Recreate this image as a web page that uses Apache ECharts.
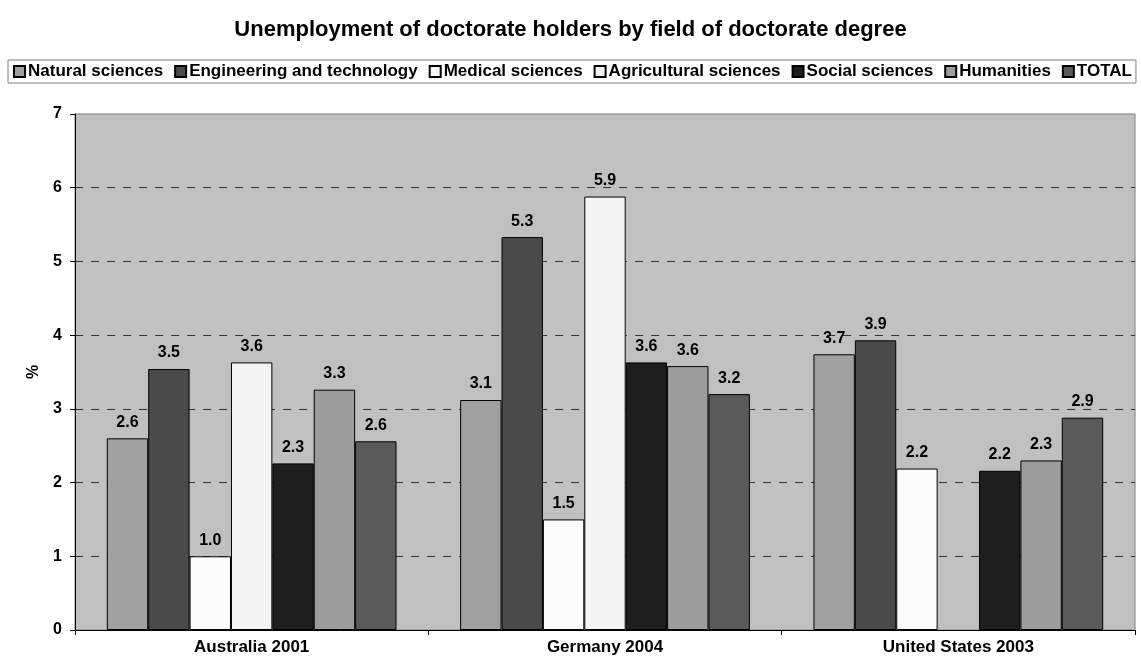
<!DOCTYPE html>
<html><head><meta charset="utf-8">
<script src="https://cdn.jsdelivr.net/npm/echarts@6/dist/echarts.min.js"></script>
<style>html,body{margin:0;padding:0;background:#fff}#c{width:1141px;height:664px}</style>
</head><body><div id="c"></div>
<script>
const categories = ['Australia 2001', 'Germany 2004', 'United States 2003'];
const seriesNames = ['Natural sciences', 'Engineering and technology', 'Medical sciences', 'Agricultural sciences', 'Social sciences', 'Humanities', 'TOTAL'];
const naturalSciences = [2.6, 3.12, 3.74];
const engineering = [3.54, 5.33, 3.93];
const medical = [1.0, 1.5, 2.19];
const agricultural = [3.63, 5.88, null];
const socialSciences = [2.26, 3.63, 2.16];
const humanities = [3.26, 3.58, 2.3];
const total = [2.56, 3.2, 2.88];
const colors = ['#a0a0a0', '#4a4a4a', '#fcfcfc', '#f4f4f4', '#1e1e1e', '#9c9c9c', '#5a5a5a'];
const yTicks = [0, 1, 2, 3, 4, 5, 6, 7];

const allData = [naturalSciences, engineering, medical, agricultural, socialSciences, humanities, total];
const font = 'Liberation Sans, Arial, sans-serif';
const chart = echarts.init(document.getElementById('c'));
chart.setOption({
  animation: false,
  title: {
    text: 'Unemployment of doctorate holders by field of doctorate degree',
    left: 'center', top: 14,
    textStyle: { fontFamily: font, fontWeight: 'bold', fontSize: 22, color: '#000' }
  },
  legend: {
    data: seriesNames,
    left: 8, top: 60,
    width: 1135,
    padding: [3, 4, 3, 5],
    itemWidth: 11, itemHeight: 11, itemGap: 11,
    borderColor: '#808080', borderWidth: 1,
    backgroundColor: '#fff',
    textStyle: { fontFamily: font, fontWeight: 'bold', fontSize: 17, color: '#000', padding: [0, 0, 0, -2] },
    icon: 'rect'
  },
  grid: {
    left: 75, right: 6, top: 114, bottom: 34,
    show: true, backgroundColor: '#c0c0c0', borderColor: '#808080', borderWidth: 1
  },
  xAxis: {
    type: 'category', data: categories,
    axisLine: { lineStyle: { color: '#000', width: 1 } },
    axisTick: { show: true, length: 5, lineStyle: { color: '#000' } },
    axisLabel: { fontFamily: font, fontWeight: 'bold', fontSize: 17, color: '#000', margin: 9 }
  },
  yAxis: {
    type: 'value', min: 0, max: 7, interval: 1,
    name: '%', nameLocation: 'middle', nameGap: 33, nameRotate: 90,
    nameTextStyle: { fontFamily: font, fontWeight: 'bold', fontSize: 16, color: '#000' },
    axisLine: { show: true, lineStyle: { color: '#000', width: 1 } },
    axisTick: { show: true, length: 5, lineStyle: { color: '#000' } },
    axisLabel: { fontFamily: font, fontWeight: 'bold', fontSize: 16, color: '#000', margin: 13,
      formatter: v => yTicks.includes(v) ? String(v) : '' },
    splitLine: { show: true, showMaxLine: false, lineStyle: { color: '#333', type: [8, 8], width: 1 } }
  },
  series: seriesNames.map((name, i) => ({
    name, type: 'bar', data: allData[i],
    barGap: '0%', barCategoryGap: '18%',
    itemStyle: { color: colors[i], borderColor: '#000', borderWidth: 1 },
    label: {
      show: true, position: 'top', distance: 8,
      fontFamily: font, fontWeight: 'bold', fontSize: 16, color: '#000',
      formatter: p => p.value == null ? '' : Number(p.value).toFixed(1)
    }
  }))
});
</script></body></html>
